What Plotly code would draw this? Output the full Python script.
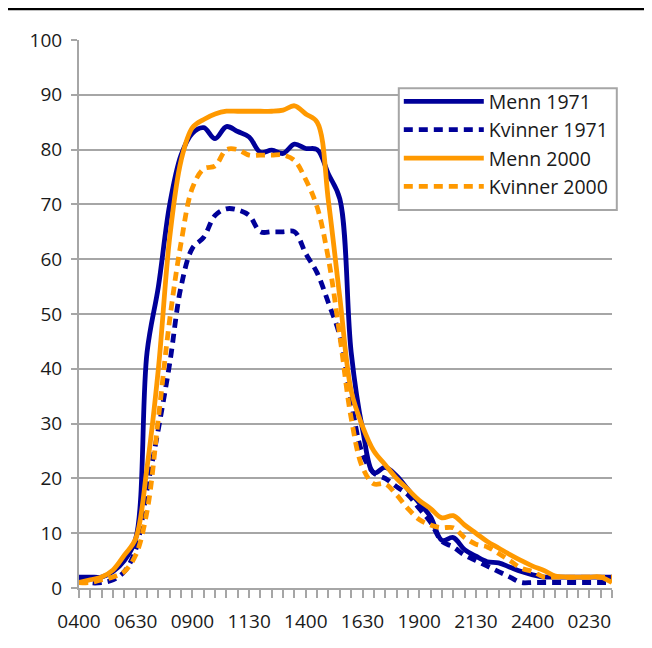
import plotly.graph_objects as go

# half-hour categories from 0400 to 0330 next day
times = ["0400", "0430", "0500", "0530", "0600", "0630", "0700", "0730",
         "0800", "0830", "0900", "0930", "1000", "1030", "1100", "1130",
         "1200", "1230", "1300", "1330", "1400", "1430", "1500", "1530",
         "1600", "1630", "1700", "1730", "1800", "1830", "1900", "1930",
         "2000", "2030", "2100", "2130", "2200", "2230", "2300", "2330",
         "2400", "0030", "0100", "0130", "0200", "0230", "0300", "0330"]
label_every = 5

menn_1971 = [2, 2, 2, 3, 5, 9, 43, 55, 70, 79,
             83, 84, 82, 84.2, 83.3, 82.3, 79.5, 79.9, 79.3, 81,
             80.2, 80, 75.5, 71, 43, 29, 21, 22, 20.5, 18,
             15.5, 13, 8.7, 9.2, 7, 5.8, 4.8, 4.6, 3.8, 3,
             2.4, 2, 2, 2, 2, 2, 2, 2]
kvinner_1971 = [2, 1, 1, 1.5, 3, 7, 18, 29, 41, 55,
                62, 64, 68, 69.2, 69, 68, 65, 65, 65, 65,
                61, 57.5, 52, 46, 34, 24.5, 21, 20, 18.5, 17,
                14.5, 12, 8.5, 7.5, 6, 5, 4, 3, 2, 1,
                1, 1, 1, 1, 1, 1, 1, 1]
menn_2000 = [1, 1.5, 2, 3.3, 6, 9, 22, 40, 64, 78,
             84, 85.5, 86.5, 87, 87, 87, 87, 87, 87.2, 88,
             86.5, 85, 70.5, 53, 36, 29.5, 25, 22.5, 20, 18,
             16, 14.5, 12.8, 13.2, 11.5, 10, 8.5, 7.3, 6.1, 5,
             4, 3.2, 2.2, 2, 2, 2, 2, 1]
kvinner_2000 = [1, 1, 1.5, 2, 3, 6, 14, 31, 49, 63,
                73, 76.5, 77, 80, 80, 79, 79, 79, 79, 78,
                74.5, 69.5, 60, 46, 31, 22, 19, 19, 17, 14.5,
                12.5, 11.5, 11, 11, 9.2, 8, 7.5, 6.3, 5, 3.6,
                3, 2, 2, 2, 2, 2, 2, 2]

NAVY = "#000099"
ORANGE = "#FF9900"
GRID = "#A6A6A6"
FONT = "Open Sans"
TEXT = "#1a1a1a"

series = [
    ("Menn 1971", menn_1971, NAVY, "solid"),
    ("Kvinner 1971", kvinner_1971, NAVY, "9px,6px"),
    ("Menn 2000", menn_2000, ORANGE, "solid"),
    ("Kvinner 2000", kvinner_2000, ORANGE, "9px,6px"),
]

fig = go.Figure()
for name, vals, color, dash in series:
  fig.add_trace(go.Scatter(
      x=times, y=vals, name=name, mode="lines", legendgroup=name,
      line=dict(color=color, width=4.8, dash=dash, shape="spline")))

ticktext = [t if i % label_every == 0 else "" for i, t in enumerate(times)]

fig.update_layout(
    width=652, height=648,
    margin=dict(l=71, r=48, t=32, b=68),
    paper_bgcolor="white", plot_bgcolor="white",
    font=dict(family=FONT, size=19, color=TEXT),
    legend=dict(
        x=0.6, y=0.923, xanchor="left", yanchor="top",
        borderwidth=0, bgcolor="rgba(0,0,0,0)",
        itemwidth=80, tracegroupgap=0,
        font=dict(family=FONT, size=19.5, color=TEXT)),
    showlegend=True,
)
fig.update_xaxes(
    type="category", range=[0, len(times) - 1],
    tickvals=times, ticktext=ticktext, tickangle=0,
    ticks="outside", ticklen=8, tickwidth=2, tickcolor=GRID,
    showline=True, linecolor=GRID, linewidth=2,
    showgrid=False, zeroline=False, ticklabelstandoff=7)
fig.update_yaxes(
    range=[0, 100], dtick=10,
    ticks="outside", ticklen=6, tickwidth=2, tickcolor=GRID,
    showline=True, linecolor=GRID, linewidth=2,
    showgrid=True, gridcolor=GRID, gridwidth=2, zeroline=False,
    ticklabelstandoff=5)

# legend frame, drawn above the gridlines but below the legend text
fig.add_shape(type="rect", xref="paper", yref="paper", layer="above",
              x0=0.6, x1=1.009, y0=0.690, y1=0.912,
              fillcolor="white", line=dict(color=GRID, width=2))

# black rule across the top of the page
fig.add_shape(type="line", xref="paper", yref="paper",
              x0=-0.2, x1=1.2, y0=1.058, y1=1.058,
              line=dict(color="black", width=4))

fig.write_html("out.html")
